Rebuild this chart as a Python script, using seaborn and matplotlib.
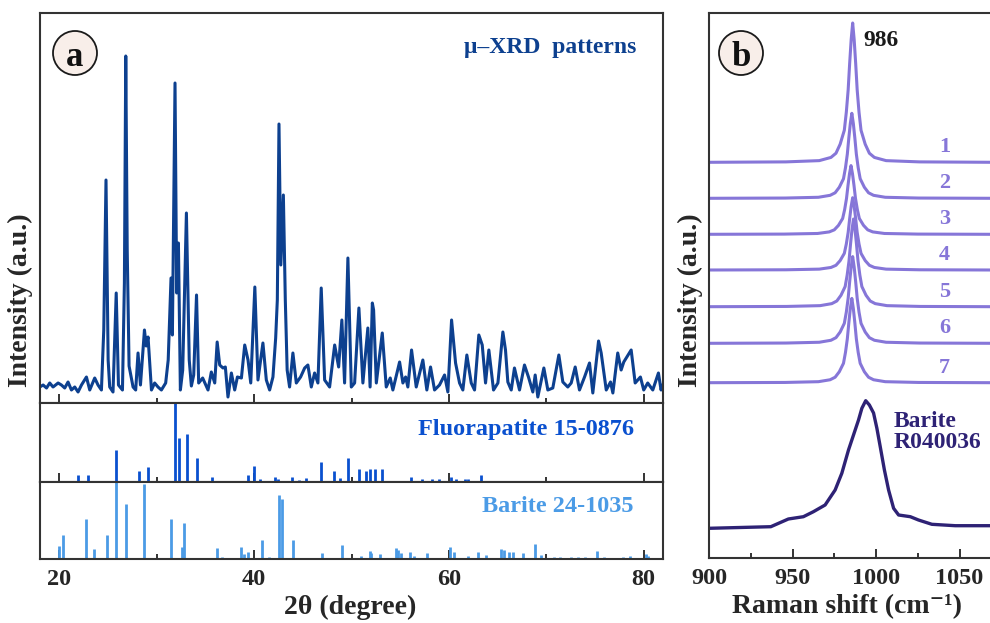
import numpy as np
import pandas as pd
import matplotlib
matplotlib.use('Agg')
import matplotlib.pyplot as plt
import seaborn as sns
from matplotlib.patches import Ellipse

# --- micro-XRD pattern (2theta in degree, intensity a.u.)
xrd_2theta = [17.98, 18.32, 18.67, 19.0, 19.34, 19.86, 20.2, 20.54, 20.88, 21.23,
              21.57, 21.91, 22.26, 22.77, 23.11, 23.62, 23.96, 24.31, 24.55, 24.78,
              25.0, 25.16, 25.5, 25.83, 26.06, 26.47, 26.67, 26.81, 26.96, 27.15,
              27.56, 27.83, 28.07, 28.32, 28.73, 28.91, 29.1, 29.45, 29.78, 30.12,
              30.47, 30.91, 31.17, 31.46, 31.6, 31.87, 32.04, 32.22, 32.42, 32.66,
              33.04, 33.33, 33.55, 33.79, 34.08, 34.3, 34.71, 35.26, 35.6, 35.95,
              36.2, 36.46, 36.8, 37.04, 37.31, 37.66, 38.0, 38.28, 38.69, 39.03,
              39.37, 39.65, 40.07, 40.39, 40.9, 41.25, 41.59, 41.93, 42.21, 42.38,
              42.55, 42.74, 43.0, 43.2, 43.39, 43.64, 43.98, 44.33, 44.77, 45.19,
              45.52, 45.87, 46.21, 46.55, 46.89, 47.24, 47.75, 48.27, 48.68, 49.01,
              49.29, 49.63, 49.98, 50.32, 50.76, 51.17, 51.68, 51.91, 52.14, 52.27,
              52.55, 53.16, 53.57, 53.98, 54.25, 54.94, 55.28, 55.56, 55.79, 56.17,
              56.65, 57.33, 57.74, 58.12, 58.53, 59.04, 59.56, 59.9, 60.28, 60.69,
              61.1, 61.44, 61.85, 62.3, 62.64, 63.08, 63.43, 63.77, 64.11, 64.59,
              65.04, 65.55, 65.82, 66.06, 66.41, 66.74, 67.26, 67.77, 68.18, 68.63,
              68.87, 69.14, 69.76, 70.17, 70.68, 71.3, 71.71, 72.22, 72.57, 72.98,
              73.42, 73.94, 74.45, 74.79, 75.38, 75.65, 76.17, 76.61, 76.85, 77.35,
              77.7, 77.97, 78.73, 79.14, 79.68, 80.02, 80.43, 80.95, 81.53, 81.8,
              81.94]
xrd_intensity = [16, 18, 15, 20, 16, 20, 18, 15, 21, 13,
                 16, 11, 18, 26, 13, 25, 18, 13, 73, 223,
                 43, 16, 11, 110, 18, 13, 120, 347, 153, 37,
                 16, 13, 50, 18, 73, 57, 66, 13, 20, 16,
                 13, 20, 43, 125, 68, 320, 110, 160, 13, 33,
                 190, 43, 17, 28, 108, 20, 25, 13, 31, 20,
                 61, 38, 35, 36, 6, 30, 13, 26, 25, 58,
                 43, 20, 116, 23, 60, 23, 13, 26, 65, 103,
                 279, 138, 208, 103, 33, 16, 50, 20, 26, 35,
                 38, 16, 30, 20, 115, 23, 16, 58, 36, 83,
                 20, 145, 16, 20, 95, 20, 75, 16, 100, 93,
                 20, 70, 16, 25, 13, 41, 20, 26, 16, 53,
                 16, 43, 13, 36, 13, 18, 28, 11, 83, 40,
                 20, 13, 48, 20, 13, 68, 58, 20, 53, 13,
                 20, 71, 53, 21, 13, 35, 13, 38, 26, 11,
                 28, 6, 35, 13, 15, 48, 21, 16, 20, 36,
                 13, 26, 40, 10, 62, 50, 13, 21, 10, 50,
                 33, 41, 53, 20, 26, 13, 20, 13, 30, 13,
                 18]

# --- reference cards (stick patterns)
fap_pos = [18.9, 21.88, 22.9, 25.47, 25.85, 28.14, 29.07, 31.87, 32.28, 33.1,
           34.13, 35.64, 39.33, 40.02, 40.64, 42.18, 42.41, 43.88, 44.64, 45.36,
           46.86, 48.23, 48.85, 49.6, 50.76, 51.48, 51.86, 52.37, 53.12, 54.43,
           56.14, 57.27, 58.25, 59.04, 60.25, 60.76, 61.71, 61.95, 63.33]
fap_int = [1, 6.7, 6.7, 1, 31.7, 11.3, 14.7, 78, 43.3, 47,
           23.7, 5.3, 6.7, 16, 3.3, 5.3, 3.3, 5.3, 2, 3.7,
           20, 11.3, 3.7, 24, 13.3, 11.3, 12.7, 12.7, 13.3, 1,
           5, 3.3, 2.7, 2.7, 5, 3.3, 3.3, 3.3, 6.7]
brt_pos = [19.93, 20.41, 22.77, 23.52, 24.86, 25.82, 26.81, 28.73, 31.5, 32.59,
           32.76, 36.15, 36.67, 38.65, 39.0, 39.4, 40.77, 41.56, 42.55, 42.9,
           43.98, 46.62, 46.96, 48.98, 50.97, 51.86, 52.0, 52.89, 54.53, 54.77,
           55.1, 55.97, 56.45, 57.78, 60.07, 60.48, 61.95, 62.98, 63.84, 65.38,
           65.62, 66.23, 66.57, 67.6, 68.87, 69.5, 70.85, 71.4, 72.5, 73.3,
           74.0, 75.18, 75.9, 77.9, 78.62, 80.26, 80.45]
brt_int = [13, 24, 40, 10, 24, 77, 55, 74.7, 40, 11.7,
           36, 11, 2, 11.7, 5, 6.7, 19.3, 2.3, 63.7, 59.7,
           18.7, 1, 5.7, 14, 3.3, 8, 6, 4.7, 10.7, 9,
           6, 6.7, 3.3, 5.7, 11.7, 7.3, 3.3, 7.3, 4, 10,
           9, 7.3, 7.3, 5.7, 15, 4, 2.3, 2.3, 2.3, 2.3,
           2.3, 7.7, 2.3, 2.3, 3.3, 4.7, 3.3]

raman_offsets = [-86, -40, -20, -13, -10, -7.5, -5, -3.8, -2.7, -1.8, -0.9, 0,
                 0.9, 1.8, 2.7, 3.8, 5, 7.5, 10, 13, 20, 40, 84]
raman_profile = [0, 0.003, 0.012, 0.035, 0.065, 0.13, 0.23, 0.36, 0.52, 0.71, 0.88, 1.0,
                 0.88, 0.71, 0.52, 0.36, 0.23, 0.13, 0.065, 0.035, 0.012, 0.003, 0]
spot_labels = ['1', '2', '3', '4', '5', '6', '7']
spot_peak = [986, 985.5, 985, 986, 986.5, 986, 985.5]
spot_base = [395.7, 359.7, 323.7, 288, 251.3, 214.7, 175.3]
spot_height = [139.3, 85, 68.7, 72.3, 87.7, 86.7, 84.3]

# barite reference R040036
brt_raman_x = [900, 937, 947.5, 956.5, 962.5, 969.5, 975.5, 979.5, 983.5, 986.5,
               989.5, 991.5, 993.8, 996, 998.5, 1000.5, 1002.5, 1005, 1007.5, 1010.5,
               1013.5, 1020.5, 1025.4, 1033.4, 1047.4, 1070]
brt_raman_y = [29.7, 31.3, 39, 41.3, 46.3, 53, 68, 84.7, 108, 123,
               138, 149.7, 157.3, 153, 145, 129.7, 111.3, 88, 68, 49.7,
               43, 41.3, 38, 33.7, 32.3, 32.3]

C_XRD = '#0d408f'
C_FAP = '#0a50cf'
C_BRT = '#4b9be6'
C_RAM = '#8676d8'
C_BRR = '#2e2275'
SPINE = '#333333'

sns.set_theme(style='ticks')
plt.rcParams['font.family'] = ['Liberation Serif', 'DejaVu Serif']
plt.rcParams['font.weight'] = 'bold'

W, H = 990, 623
fig = plt.figure(figsize=(W / 100, H / 100), dpi=100)


def fx(px):
    return px / W


def fy(py):
    return 1 - py / H


left, right = 40, 663
ax_xrd = fig.add_axes([fx(left), fy(403), fx(right) - fx(left), fy(13) - fy(403)])
ax_fap = fig.add_axes([fx(left), fy(482), fx(right) - fx(left), fy(403) - fy(482)])
ax_brt = fig.add_axes([fx(left), fy(559), fx(right) - fx(left), fy(482) - fy(559)])
ax_ram = fig.add_axes([fx(709), fy(558), fx(993) - fx(709), fy(13) - fy(558)])

# panel a
sns.lineplot(x=xrd_2theta, y=xrd_intensity, ax=ax_xrd, color=C_XRD, lw=2.2,
             estimator=None, sort=False)
ax_xrd.set_ylim(0, 390)
ax_fap.vlines(fap_pos, 0, fap_int, color=C_FAP, lw=2.0)
ax_fap.set_ylim(0, 78)
ax_brt.vlines(brt_pos, 0, brt_int, color=C_BRT, lw=2.0)
ax_brt.set_ylim(0, 77)

for ax in (ax_xrd, ax_fap, ax_brt):
    ax.set_xlim(18, 82)
    ax.set_xticks([20, 40, 60, 80])
    ax.set_xticks([30, 50, 70], minor=True)
    ax.set_yticks([])
    ax.set_xlabel('')
    ax.set_ylabel('')
    ax.tick_params(axis='x', which='both', direction='in', bottom=True, top=False,
                   color='#111111', labelsize=17.5, pad=7)
    ax.tick_params(axis='x', which='major', length=6.5, width=1.2)
    ax.tick_params(axis='x', which='minor', length=3.5, width=1.2)
    for s in ax.spines.values():
        s.set_color(SPINE)
        s.set_linewidth(1.5)
ax_xrd.tick_params(axis='x', labelbottom=False)
ax_fap.tick_params(axis='x', labelbottom=False)

fig.text(fx(636), fy(48), 'μ–XRD  patterns', ha='right', va='center',
         color=C_XRD, fontsize=17, fontweight='bold')
fig.text(fx(634), fy(429), 'Fluorapatite 15-0876', ha='right', va='center',
         color=C_FAP, fontsize=17.5, fontweight='bold')
fig.text(fx(633), fy(506), 'Barite 24-1035', ha='right', va='center',
         color=C_BRT, fontsize=17.5, fontweight='bold')

# panel b
for lab, pk, base, h in zip(spot_labels, spot_peak, spot_base, spot_height):
    xs = pk + np.array(raman_offsets)
    ys = base + h * np.array(raman_profile)
    sns.lineplot(x=xs, y=ys, ax=ax_ram, color=C_RAM, lw=2.2, estimator=None, sort=False)
    ax_ram.text(1041, base + 15, lab, ha='center', va='center', color=C_RAM,
                fontsize=16, fontweight='bold')
sns.lineplot(x=brt_raman_x, y=brt_raman_y, ax=ax_ram, color=C_BRR, lw=2.4,
             estimator=None, sort=False)
ax_ram.text(1010.5, 126, 'Barite\nR040036', ha='left', va='center', color=C_BRR,
            fontsize=17, fontweight='bold', linespacing=1.05)
ax_ram.text(992.5, 518, '986', ha='left', va='center', color='#1a1a1a',
            fontsize=17, fontweight='bold')
ax_ram.set_xlim(900, 1070)
ax_ram.set_ylim(0, 545)
ax_ram.set_xticks([900, 950, 1000, 1050])
ax_ram.set_xticks([925, 975, 1025], minor=True)
ax_ram.set_yticks([])
ax_ram.set_xlabel('')
ax_ram.set_ylabel('')
ax_ram.tick_params(axis='x', which='both', direction='in', color='#111111',
                   labelsize=17.5, pad=7)
ax_ram.tick_params(axis='x', which='major', length=6.5, width=1.2)
ax_ram.tick_params(axis='x', which='minor', length=3.5, width=1.2)
for s in ax_ram.spines.values():
    s.set_color(SPINE)
    s.set_linewidth(1.5)
ax_ram.spines['right'].set_visible(False)

# axis titles
fig.text(fx(350), fy(607), '2θ (degree)', ha='center', va='center', fontsize=20)
fig.text(fx(847), fy(607), 'Raman shift (cm⁻¹)', ha='center', va='center', fontsize=20)
fig.text(fx(20), fy(300), 'Intensity (a.u.)', ha='center', va='center', rotation=90, fontsize=20)
fig.text(fx(690), fy(300), 'Intensity (a.u.)', ha='center', va='center', rotation=90, fontsize=20)

# circled panel letters
for cx, letter in ((75, 'a'), (741, 'b')):
    fig.add_artist(Ellipse((fx(cx), fy(53)), 44 / W, 44 / H, transform=fig.transFigure,
                           facecolor='#f8eee9', edgecolor='#1a1a1a', lw=1.3))
    fig.text(fx(cx), fy(53), letter, ha='center', va='center_baseline', fontsize=25,
             fontweight='bold', color='#111111')

fig.savefig('out.png', dpi=100)
